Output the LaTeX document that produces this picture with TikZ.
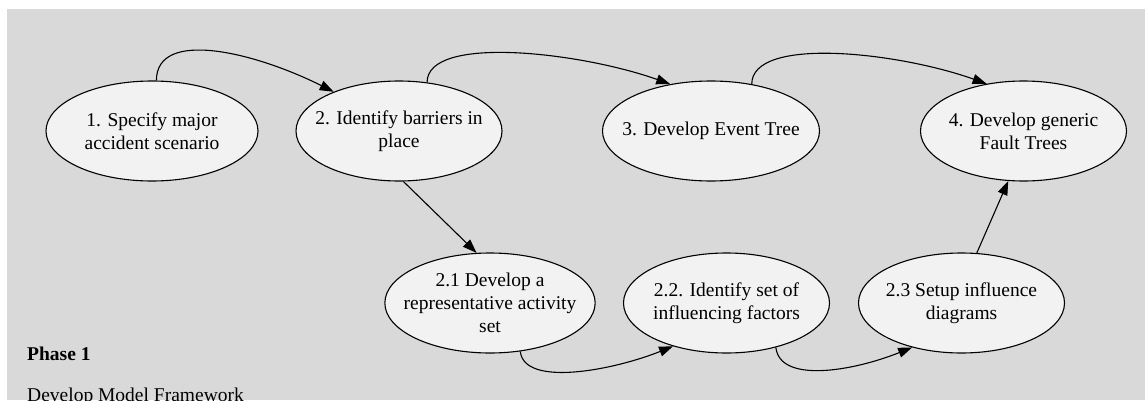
\documentclass[tikz,border=0pt]{standalone}
\usepackage{fontspec}
\setmainfont{Liberation Serif}
\usetikzlibrary{shapes.geometric,arrows.meta}
\definecolor{panelgray}{HTML}{D9D9D9}
\definecolor{stepfill}{HTML}{F2F2F2}

\begin{document}
\begin{tikzpicture}[x=1pt,y=1pt,
    stepnode/.style={ellipse, draw, line width=1.1pt, fill=stepfill, align=center,
      minimum width=206pt, minimum height=100pt, inner xsep=-12pt, inner ysep=-10pt,
      font=\fontsize{19.5}{23.3}\selectfont},
    flow/.style={line width=1.1pt, -{Triangle[length=14pt,width=10pt]}},
    phasetext/.style={anchor=base west, inner sep=0pt, font=\fontsize{19.5}{23.3}\selectfont}]

    \useasboundingbox (0,0) rectangle (1145,400);
    \fill[panelgray] (7,0) rectangle (1145,391);

    \node[stepnode, minimum width=212pt] (s1) at (152,269) {1. Specify major\\accident scenario};
    \node[stepnode] (s2) at (399,269) {2. Identify barriers in\\place};
    \node[stepnode] (s3) at (711,269) {3. Develop Event Tree};
    \node[stepnode] (s4) at (1023.5,269) {4. Develop generic\\Fault Trees};
    \node[stepnode] (s21) at (490,97) {2.1 Develop a\\representative activity\\set};
    \node[stepnode] (s22) at (726.5,97) {2.2. Identify set of\\influencing factors};
    \node[stepnode] (s23) at (961.5,97) {2.3 Setup influence\\diagrams};

    \node[phasetext] (phase) at (27,40) {\bfseries Phase 1};
    \node[phasetext] (phasename) at (27,-1) {Develop Model Framework};

    \draw[flow] (s1.85) .. controls +(0,52) and +(-80,40) .. (s2.149);
    \draw[flow] (s2.60) .. controls +(0,48) and +(-90,32) .. (s3.131);
    \draw[flow] (s3.49) .. controls +(0,48) and +(-90,32) .. (s4.128);
    \draw[flow] (s2.-85) -- (s21.105);
    \draw[flow] (s21.-58) .. controls +(4,-36) and +(-60,-24) .. (s22.219);
    \draw[flow] (s22.-42) .. controls +(4,-36) and +(-60,-24) .. (s23.222);
    \draw[flow] (s23.73) -- (s4.253);
\end{tikzpicture}
\end{document}
